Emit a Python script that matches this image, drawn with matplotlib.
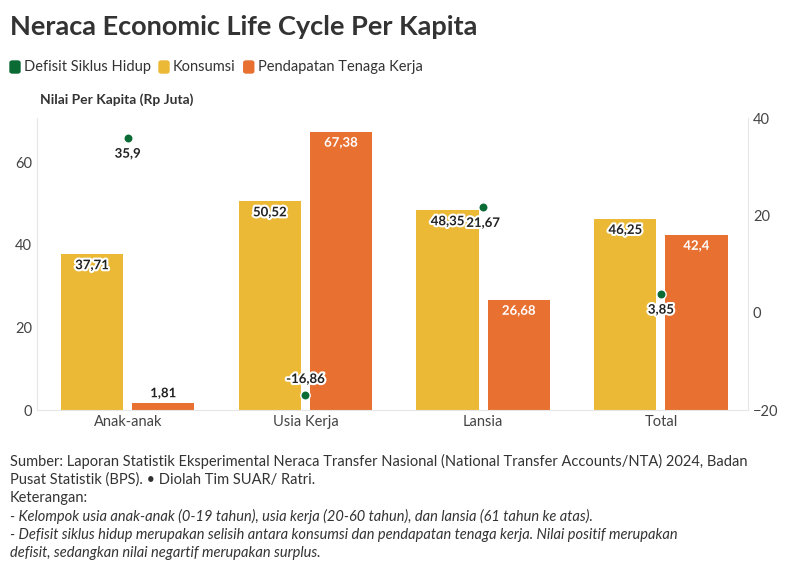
import matplotlib
matplotlib.use("Agg")
import matplotlib.pyplot as plt
import matplotlib.patheffects as pe
import numpy as np

plt.rcParams['font.family'] = ['Lato', 'DejaVu Sans']

categories = ["Anak-anak", "Usia Kerja", "Lansia", "Total"]
konsumsi = [37.71, 50.52, 48.35, 46.25]
pendapatan = [1.81, 67.38, 26.68, 42.4]
defisit = [35.9, -16.86, 21.67, 3.85]

def fmt(v):
    return f"{v:g}".replace(".", ",")

C_K = "#EBB935"; C_P = "#E87030"; C_D = "#0B6B35"

fig = plt.figure(figsize=(7.93, 5.70), dpi=100)
ax = fig.add_axes([37/793, 1-410/570, (748-37)/793, (410-118)/570])
ax2 = ax.twinx()
x = np.arange(len(categories))
w = 0.35
ax.bar(x-0.2, konsumsi, w, color=C_K, zorder=2)
ax.bar(x+0.2, pendapatan, w, color=C_P, zorder=2)
for i in range(len(x)):
    ax.text(x[i]-0.2, konsumsi[i]-1.2, fmt(konsumsi[i]), ha='center', va='top', fontsize=9.5,
            fontweight='bold', color='#222', zorder=5,
            path_effects=[pe.withStroke(linewidth=3, foreground='white')])
    if pendapatan[i] > 10:
        ax.text(x[i]+0.2, pendapatan[i]-1.2, fmt(pendapatan[i]), ha='center', va='top', fontsize=9.5,
                fontweight='bold', color='white', zorder=5,
                path_effects=[pe.withStroke(linewidth=3, foreground=C_P)])
    else:
        ax.text(x[i]+0.2, pendapatan[i]+0.8, fmt(pendapatan[i]), ha='center', va='bottom', fontsize=9.5,
                fontweight='bold', color='#222', zorder=5,
                path_effects=[pe.withStroke(linewidth=3, foreground='white')])
ax2.scatter(x, defisit, s=45, color=C_D, edgecolor='white', linewidth=1, zorder=6)
for i in range(len(x)):
    if defisit[i] >= 0:
        ax2.annotate(fmt(defisit[i]), (x[i], defisit[i]), xytext=(0, -7), textcoords='offset points',
                     ha='center', va='top', fontsize=9.5, fontweight='bold', color='#222', zorder=7,
                     path_effects=[pe.withStroke(linewidth=3, foreground='white')])
    else:
        ax2.annotate(fmt(defisit[i]), (x[i], defisit[i]), xytext=(0, 7), textcoords='offset points',
                     ha='center', va='bottom', fontsize=9.5, fontweight='bold', color='#222', zorder=7,
                     path_effects=[pe.withStroke(linewidth=3, foreground='white')])
ax.set_zorder(1); ax2.set_zorder(2); ax.patch.set_visible(False)
ax.set_xlim(-0.51, 3.49)
ax.set_ylim(0, 70.7)
ax2.set_ylim(-20, 40)
ax.set_yticks([0, 20, 40, 60])
ax2.set_yticks([-20, 0, 20, 40])
ax.set_xticks(x)
ax.set_xticklabels(categories)
for a in (ax, ax2):
    for s in a.spines.values():
        s.set_visible(False)
    a.tick_params(length=0, labelsize=10.5, colors='#444')
ax.spines['left'].set_visible(True); ax.spines['left'].set_color('#e6e6e6')
ax2.spines['right'].set_visible(True); ax2.spines['right'].set_color('#e6e6e6')
ax.spines['bottom'].set_visible(True); ax.spines['bottom'].set_color('#e6e6e6')

fig.text(10/793, 1-27/570, "Neraca Economic Life Cycle Per Kapita", fontsize=19.5, fontweight='bold',
         color='#333', va='center')
lx = 10
for lab, c in [("Defisit Siklus Hidup", C_D), ("Konsumsi", C_K), ("Pendapatan Tenaga Kerja", C_P)]:
    fig.patches.append(matplotlib.patches.FancyBboxPatch((lx/793, 1-73/570), 10/793, 12/570,
                       boxstyle="round,pad=0,rounding_size=0.003", transform=fig.transFigure, color=c))
    t = fig.text((lx+14)/793, 1-67/570, lab, fontsize=10.5, color='#333', va='center')
    fig.canvas.draw()
    bb = t.get_window_extent()
    lx = bb.x1 + 8
fig.text(40/793, 1-100/570, "Nilai Per Kapita (Rp Juta)", fontsize=10, fontweight='bold', color='#333', va='center')

notes = [("Sumber: Laporan Statistik Eksperimental Neraca Transfer Nasional (National Transfer Accounts/NTA) 2024, Badan", 'normal'),
         ("Pusat Statistik (BPS). • Diolah Tim SUAR/ Ratri.", 'normal'),
         ("Keterangan:", 'normal'),
         ("- Kelompok usia anak-anak (0-19 tahun), usia kerja (20-60 tahun), dan lansia (61 tahun ke atas).", 'italic'),
         ("- Defisit siklus hidup merupakan selisih antara konsumsi dan pendapatan tenaga kerja. Nilai positif merupakan", 'italic'),
         ("defisit, sedangkan nilai negartif merupakan surplus.", 'italic')]
for k, (s, st) in enumerate(notes):
    fig.text(10/793, 1-(461+18.5*k)/570, s, fontsize=10.5, style=st, color='#333', va='center')

fig.savefig("out.png", dpi=100, facecolor='white')
